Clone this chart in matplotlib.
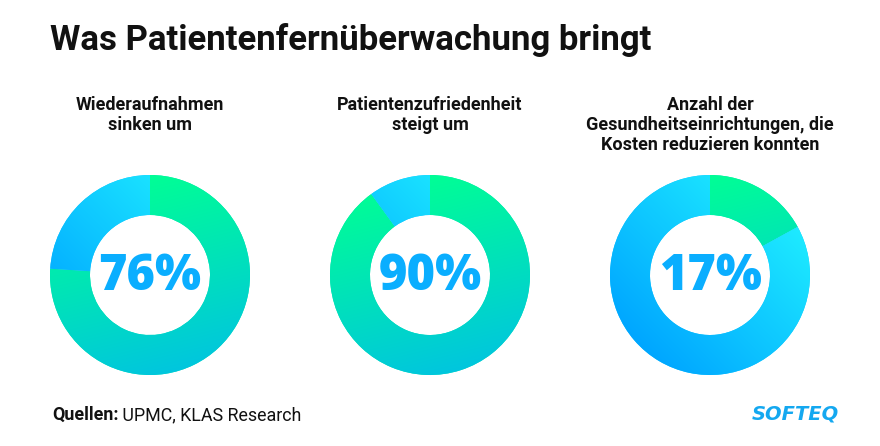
import numpy as np
import matplotlib
matplotlib.use("Agg")
import matplotlib.pyplot as plt
from matplotlib.colors import to_rgb

# ---- data ----
title = "Was Patientenfernüberwachung bringt"
subtitles = ["Wiederaufnahmen\nsinken um",
             "Patientenzufriedenheit\nsteigt um",
             "Anzahl der\nGesundheitseinrichtungen, die\nKosten reduzieren konnten"]
values = [76, 90, 17]
labels = ["76%", "90%", "17%"]
source_bold = "Quellen:"
source_text = " UPMC, KLAS Research"
brand = "SOFTEQ"

W, H = 880, 446
fig = plt.figure(figsize=(W / 100, H / 100), dpi=100)
ax = fig.add_axes([0, 0, 1, 1])

def Y(y):
    return H - y

centers_x = [150, 430, 710]
cy = 275
R, width = 100, 40

green_top, green_bot = to_rgb("#00FF94"), to_rgb("#00C6DE")
blue_tr, blue_bl = to_rgb("#1EECFF"), to_rgb("#00A6FF")

def grad_img(c0, c1, direction, n=220):
    xs = np.linspace(-1, 1, n)
    X, Yg = np.meshgrid(xs, xs)
    t = (X * direction[0] + Yg * direction[1]) / np.hypot(*direction)
    t = (t + 1) / 2
    t = np.clip(t, 0, 1)[..., None]
    return (1 - t) * np.array(c0) + t * np.array(c1)

green_img = grad_img(green_top, green_bot, (0.25, 1.0))
blue_img = grad_img(blue_tr, blue_bl, (-1.0, 1.0))

for cx, v, lab in zip(centers_x, values, labels):
    wedges, _ = ax.pie([v, 100 - v], center=(cx, Y(cy)), radius=R, startangle=90,
                       counterclock=False, colors=["#00E6B4", "#10C8FF"],
                       wedgeprops=dict(width=width, linewidth=0, edgecolor="none"))
    for wdg, img in zip(wedges, [green_img, blue_img]):
        im = ax.imshow(img, extent=(cx - R, cx + R, Y(cy) - R, Y(cy) + R),
                       origin="upper", interpolation="bilinear", zorder=3)
        im.set_clip_path(wdg)
    ax.text(cx, Y(cy) - 2, lab, ha="center", va="center", fontsize=35,
            family="Open Sans", fontweight="heavy", color="#0AAEFF", zorder=5)

ax.set_xlim(0, W)
ax.set_ylim(0, H)
ax.set_aspect("auto")
ax.axis("off")

ax.text(50, Y(50), title, ha="left", va="baseline", fontsize=25,
        family="Roboto", fontweight="bold", color="#111111")

for cx, s in zip(centers_x, subtitles):
    ax.text(cx, Y(96), s, ha="center", va="top", fontsize=13, family="Roboto",
            fontweight="bold", color="#111111", linespacing=1.15)

t1 = ax.text(52, Y(420), source_bold, ha="left", va="baseline", fontsize=12.9,
             family="Roboto", fontweight="bold", color="#111111")
fig.canvas.draw()
bb = t1.get_window_extent()
ax.text(bb.x1, Y(420), source_text, ha="left", va="baseline", fontsize=12.9,
        family="Roboto", color="#111111")

ax.text(839, Y(420), brand, ha="right", va="baseline", fontsize=14,
        family="DejaVu Sans", fontweight="bold", style="italic", color="#14A8F0")

fig.savefig("out.png", dpi=100, facecolor="white")
